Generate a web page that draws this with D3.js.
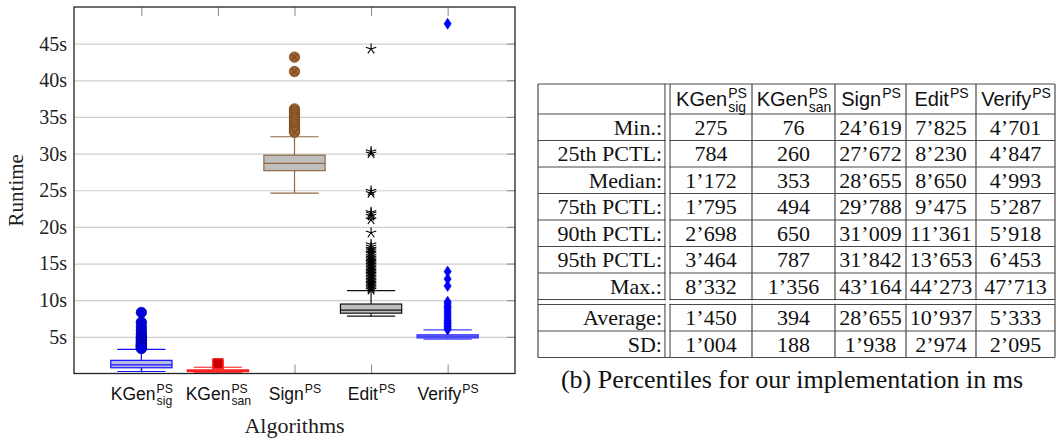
<!DOCTYPE html>
<html>
<head>
<meta charset="utf-8">
<script src="https://cdn.jsdelivr.net/npm/d3@7"></script>
<style>
  body { margin: 0; background: #fff; }
  svg { display: block; }
</style>
</head>
<body>
<svg id="chart" width="1058" height="440"></svg>
<script>
// algorithm names (base, superscript, subscript)
const catBase = ["KGen", "KGen", "Sign", "Edit", "Verify"];
const catSub = ["sig", "san", "", "", ""];
const catSup = "PS";

// percentile table, ms
const rowLabels = ["Min.:", "25th PCTL:", "Median:", "75th PCTL:", "90th PCTL:", "95th PCTL:", "Max.:", "Average:", "SD:"];
const kgenSig = [275, 784, 1172, 1795, 2698, 3464, 8332, 1450, 1004];
const kgenSan = [76, 260, 353, 494, 650, 787, 1356, 394, 188];
const sign = [24619, 27672, 28655, 29788, 31009, 31842, 43164, 28655, 1938];
const edit = [7825, 8230, 8650, 9475, 11361, 13653, 44273, 10937, 2974];
const verify = [4701, 4847, 4993, 5287, 5918, 6453, 47713, 5333, 2095];
const columns = [kgenSig, kgenSan, sign, edit, verify];

// upper whisker ends, seconds
const upperWhisker = [3.3, 0.85, 32.3, 11.3, 5.95];

// outliers, seconds
const outKgenSig = [8.33, 7.0, 6.4, 5.9, 5.4, 5.1, 4.9, 4.7, 4.5, 4.3, 4.1, 4.0, 3.9, 3.8, 3.7, 3.6, 3.5, 3.4];
const outKgenSan = [0.9, 1.0, 1.1, 1.2, 1.3, 1.356];
const outSign = [43.164, 41.2, 36.1, 35.8, 35.5, 35.2, 34.9, 34.6, 34.3, 34.0, 33.7, 33.4, 33.1, 32.9];
const outEdit = [44.273, 30.3, 30.0, 24.9, 24.6, 22.0, 21.8, 21.5, 21.0, 19.2, 17.6, 17.3, 17.0, 16.8, 16.5,
  16.3, 16.0, 15.8, 15.6, 15.4, 15.2, 15.0, 14.8, 14.6, 14.4, 14.2, 14.0, 13.8, 13.6, 13.4, 13.2, 13.0,
  12.8, 12.6, 12.4, 12.2, 12.0, 11.8, 11.6, 11.4];
const outVerify = [47.713, 13.9, 12.9, 11.95, 9.8, 9.5, 9.2, 9.0, 8.7, 8.4, 8.1, 7.8, 7.5, 7.2, 7.0, 6.8,
  6.6, 6.4, 6.2, 6.0];

const yTicks = [5, 10, 15, 20, 25, 30, 35, 40, 45];

const serif = "'Liberation Serif', 'Times New Roman', serif";
const sans = "'Liberation Sans', Arial, sans-serif";

const strokeCol = ["#1010ff", "#ff1a1a", "#8f6a45", "#111111", "#4040ff"];
const fillCol = ["#b8b8e0", "#ff7070", "#bfbfbf", "#bfbfbf", "#6060f2"];

const svg = d3.select("#chart");

// ---------- box plot ----------
const plot = { left: 74, right: 515, top: 7, bottom: 373.5 };

const x = d3.scalePoint()
  .domain(d3.range(catBase.length))
  .range([plot.left, plot.right])
  .padding(0.88);

const y = d3.scaleLinear()
  .domain([0, 50])
  .range([plot.bottom, plot.top]);

const chart = svg.append("g");

// grid
chart.append("g")
  .attr("transform", "translate(" + plot.left + ",0)")
  .call(d3.axisLeft(y).tickValues(yTicks).tickSize(-(plot.right - plot.left)).tickFormat(""))
  .call(g => g.select(".domain").remove())
  .call(g => g.selectAll("line").attr("stroke", "#cfcfcf").attr("stroke-width", 1.2));

// y labels
chart.append("g")
  .attr("transform", "translate(" + plot.left + ",0)")
  .call(d3.axisLeft(y).tickValues(yTicks).tickSize(0).tickPadding(7).tickFormat(d => d + "s"))
  .call(g => g.select(".domain").remove())
  .call(g => g.selectAll("text").attr("font-family", serif).attr("font-size", 20).attr("fill", "#222"));

// inner ticks on right, top, bottom
chart.append("g")
  .attr("transform", "translate(" + plot.right + ",0)")
  .call(d3.axisRight(y).tickValues(yTicks).tickSize(-8).tickFormat(""))
  .call(g => g.select(".domain").remove())
  .call(g => g.selectAll("line").attr("stroke", "#888"));

chart.append("g")
  .attr("transform", "translate(0," + plot.top + ")")
  .call(d3.axisTop(x).tickSize(-9).tickFormat(""))
  .call(g => g.select(".domain").remove())
  .call(g => g.selectAll("line").attr("stroke", "#888"));

chart.append("g")
  .attr("transform", "translate(0," + plot.bottom + ")")
  .call(d3.axisBottom(x).tickSize(-9).tickFormat(""))
  .call(g => g.select(".domain").remove())
  .call(g => g.selectAll("line").attr("stroke", "#888"));

const boxW = x.step() * 0.8;
const capW = x.step() * 0.63;

const boxes = catBase.map((d, i) => ({
  i: i,
  min: columns[i][0] / 1000,
  q1: columns[i][1] / 1000,
  med: columns[i][2] / 1000,
  q3: columns[i][3] / 1000,
  hi: upperWhisker[i]
}));

const box = chart.selectAll(".box")
  .data(boxes)
  .join("g")
  .attr("class", "box")
  .attr("stroke", d => strokeCol[d.i])
  .attr("stroke-width", 1.2);

box.append("line")
  .attr("x1", d => x(d.i)).attr("x2", d => x(d.i))
  .attr("y1", d => y(d.q3)).attr("y2", d => y(d.hi));
box.append("line")
  .attr("x1", d => x(d.i)).attr("x2", d => x(d.i))
  .attr("y1", d => y(d.q1)).attr("y2", d => y(d.min));
box.append("line")
  .attr("x1", d => x(d.i) - capW / 2).attr("x2", d => x(d.i) + capW / 2)
  .attr("y1", d => y(d.hi)).attr("y2", d => y(d.hi));
box.append("line")
  .attr("x1", d => x(d.i) - capW / 2).attr("x2", d => x(d.i) + capW / 2)
  .attr("y1", d => y(d.min)).attr("y2", d => y(d.min));
box.append("rect")
  .attr("x", d => x(d.i) - boxW / 2)
  .attr("width", boxW)
  .attr("y", d => y(d.q3))
  .attr("height", d => Math.max(1, y(d.q1) - y(d.q3)))
  .attr("fill", d => fillCol[d.i]);
box.append("line")
  .attr("x1", d => x(d.i) - boxW / 2).attr("x2", d => x(d.i) + boxW / 2)
  .attr("y1", d => y(d.med)).attr("y2", d => y(d.med));

// outlier marks
const marks = chart.append("g");
const starPath = d3.range(5).map(k => {
  const a = -Math.PI / 2 + k * 2 * Math.PI / 5;
  return "M0,0L" + (5.5 * Math.cos(a)).toFixed(2) + "," + (5.5 * Math.sin(a)).toFixed(2);
}).join("");

// KGen sig: circles
marks.selectAll(".o0").data(outKgenSig).join("circle")
  .attr("cx", x(0)).attr("cy", d => y(d)).attr("r", 5.2)
  .attr("fill", "#0000dd").attr("stroke", "#0000b0").attr("stroke-width", 0.8);

// KGen san: squares
marks.selectAll(".o1").data(outKgenSan).join("rect")
  .attr("x", x(1) - 5).attr("y", d => y(d) - 5).attr("width", 10).attr("height", 10)
  .attr("fill", "#cc0000").attr("stroke", "#ff3030").attr("stroke-width", 1);

// Sign: crossed circles
const sg = marks.selectAll(".o2").data(outSign).join("g")
  .attr("transform", d => "translate(" + x(2) + "," + y(d) + ")");
sg.append("circle").attr("r", 5.2).attr("fill", "#9c6030").attr("stroke", "#7a4a22").attr("stroke-width", 0.8);
sg.append("path").attr("d", "M-3.5,-3.5L3.5,3.5M-3.5,3.5L3.5,-3.5").attr("stroke", "#6b3d1a").attr("stroke-width", 0.8);

// Edit: stars
marks.selectAll(".o3").data(outEdit).join("path")
  .attr("transform", d => "translate(" + x(3) + "," + y(d) + ")")
  .attr("d", starPath).attr("fill", "none").attr("stroke", "#000").attr("stroke-width", 1.1);

// Verify: diamonds
marks.selectAll(".o4").data(outVerify).join("path")
  .attr("transform", d => "translate(" + x(4) + "," + y(d) + ")")
  .attr("d", "M0,-5.5L3.6,0L0,5.5L-3.6,0Z")
  .attr("fill", "#0000ff").attr("stroke", "#0000ee").attr("stroke-width", 0.6);

// frame
chart.append("rect")
  .attr("x", plot.left).attr("y", plot.top)
  .attr("width", plot.right - plot.left).attr("height", plot.bottom - plot.top)
  .attr("fill", "none").attr("stroke", "#222").attr("stroke-width", 1.3);

// algorithm name with PS superscript and optional subscript
function algoLabel(g, cx, cy, i, size) {
  const t = g.append("text").attr("font-family", sans).attr("font-size", size).attr("fill", "#111").text(catBase[i]);
  const bw = t.node().getComputedTextLength();
  const small = size * 0.7;
  const sup = g.append("text").attr("font-family", sans).attr("font-size", small).attr("fill", "#111").text(catSup);
  const sub = g.append("text").attr("font-family", sans).attr("font-size", small).attr("fill", "#111").text(catSub[i]);
  const extra = Math.max(sup.node().getComputedTextLength(), catSub[i] ? sub.node().getComputedTextLength() : 0);
  const x0 = cx - (bw + extra) / 2;
  t.attr("x", x0).attr("y", cy);
  sup.attr("x", x0 + bw + 1).attr("y", cy - size * 0.42);
  sub.attr("x", x0 + bw + 1).attr("y", cy + size * 0.28);
}

const xl = chart.append("g");
catBase.forEach((d, i) => algoLabel(xl, x(i), 400, i, 17.5));

chart.append("text")
  .attr("x", (plot.left + plot.right) / 2).attr("y", 433)
  .attr("text-anchor", "middle")
  .attr("font-family", serif).attr("font-size", 22).attr("fill", "#222")
  .text("Algorithms");

chart.append("text")
  .attr("transform", "translate(23," + ((plot.top + plot.bottom) / 2) + ") rotate(-90)")
  .attr("text-anchor", "middle")
  .attr("font-family", serif).attr("font-size", 21).attr("fill", "#222")
  .text("Runtime");

// ---------- table ----------
const fmt = d3.formatLocale({ decimal: ".", thousands: "’", grouping: [3], currency: ["", ""] }).format(",d");

const colW = [127, 5, 82, 83, 71, 70, 79];
const colX = [538].concat(Array.from(d3.cumsum(colW), v => 538 + v));
const tTop = 84, headBottom = 114, rowH = 26.5, gap = 5;
const rowTop = rowLabels.map((d, r) => headBottom + r * rowH + (r >= 7 ? gap : 0));
const tBottom = rowTop[rowTop.length - 1] + rowH;

const table = svg.append("g");
const lineCol = "#4a4a4a";

// horizontal rules
const hLines = [tTop, headBottom].concat(rowTop.slice(1), [tBottom, rowTop[7] - gap]);
table.selectAll(".hl").data(hLines).join("line")
  .attr("x1", colX[0]).attr("x2", colX[colX.length - 1])
  .attr("y1", d => d).attr("y2", d => d)
  .attr("stroke", lineCol).attr("stroke-width", 1.2);

// vertical rules
table.selectAll(".vl").data(colX).join("line")
  .attr("x1", d => d).attr("x2", d => d)
  .attr("y1", tTop).attr("y2", tBottom)
  .attr("stroke", lineCol).attr("stroke-width", 1.2);

// clear the gap of the double rules
table.append("rect")
  .attr("x", colX[1] + 0.8).attr("y", tTop + 0.8)
  .attr("width", colX[2] - colX[1] - 1.6).attr("height", tBottom - tTop - 1.6)
  .attr("fill", "#fff");
table.append("rect")
  .attr("x", colX[0] + 0.8).attr("y", rowTop[7] - gap + 0.8)
  .attr("width", colX[colX.length - 1] - colX[0] - 1.6).attr("height", gap - 1.6)
  .attr("fill", "#fff");

// header
const head = table.append("g");
catBase.forEach((d, i) => algoLabel(head, (colX[i + 2] + colX[i + 3]) / 2, 106, i, 20));

// row labels
table.selectAll(".rl").data(rowLabels).join("text")
  .attr("x", colX[1] - 3).attr("y", (d, r) => rowTop[r] + rowH / 2 + 7.5)
  .attr("text-anchor", "end")
  .attr("font-family", serif).attr("font-size", 22).attr("fill", "#111")
  .text(d => d);

// values
columns.forEach((col, c) => {
  table.selectAll(".v" + c).data(col).join("text")
    .attr("x", (colX[c + 2] + colX[c + 3]) / 2)
    .attr("y", (d, r) => rowTop[r] + rowH / 2 + 7.5)
    .attr("text-anchor", "middle")
    .attr("font-family", serif).attr("font-size", 22).attr("fill", "#111")
    .text(d => fmt(d));
});

svg.append("text")
  .attr("x", 792).attr("y", 388)
  .attr("text-anchor", "middle")
  .attr("font-family", serif).attr("font-size", 26).attr("fill", "#111")
  .text("(b) Percentiles for our implementation in ms");
</script>
</body>
</html>
